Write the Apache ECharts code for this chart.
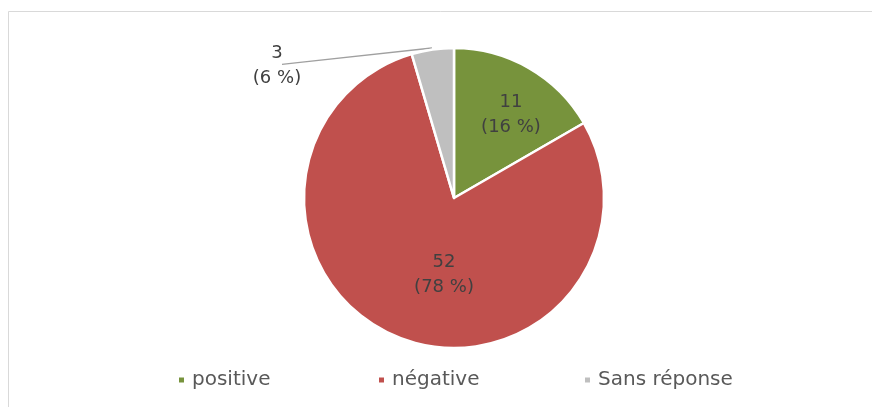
<!DOCTYPE html>
<head>
    <meta charset="UTF-8">
    <title>ECharts</title>
</head>
<body style="margin:0">
<div id="main" style="width:872px;height:407px"></div>
<script src="https://cdn.jsdelivr.net/npm/echarts@6/dist/echarts.min.js"></script>
<script type="text/javascript">
var categories = ['positive', 'négative', 'Sans réponse'];
var values = [11, 52, 3];
var percents = ['16 %', '78 %', '6 %'];
var colors = ['#77933C', '#C0504D', '#BFBFBF'];
var legendLeft = [177, 377, 583];

var FONT = '"DejaVu Sans", Verdana, sans-serif';

var pieData = [];
for (var i = 0; i < categories.length; i++) {
    pieData.push({
        name: categories[i],
        value: values[i],
        pct: percents[i],
        itemStyle: { color: colors[i] }
    });
}
// label nudges to sit where the original places them
pieData[0].label = { position: 'inside', offset: [18, -16] };
pieData[1].label = { position: 'inside', offset: [19, 4] };
pieData[2].label = { position: 'outside' };

// one legend per item so each marker sits at its own spot
var legends = [];
for (var j = 0; j < categories.length; j++) {
    legends.push({
        top: 370,
        left: legendLeft[j],
        padding: 0,
        icon: 'rect',
        itemWidth: 7,
        itemHeight: 7,
        textStyle: { fontSize: 20, color: '#595959', fontFamily: FONT, padding: [0, 0, 0, 2] },
        data: [categories[j]]
    });
}

var option = {
    backgroundColor: '#fff',
    textStyle: { fontFamily: FONT },
    graphic: [
        {
            type: 'rect',
            shape: { x: 8.5, y: 11.5, width: 900, height: 430 },
            style: { fill: 'none', stroke: '#d9d9d9', lineWidth: 1 },
            silent: true
        }
    ],
    legend: legends,
    series: [
        {
            type: 'pie',
            center: [454, 198],
            radius: 150,
            startAngle: 90,
            clockwise: true,
            animation: false,
            itemStyle: { borderColor: '#fff', borderWidth: 2.5 },
            label: {
                formatter: function (p) { return p.value + '\n(' + p.data.pct + ')'; },
                fontSize: 18,
                lineHeight: 25,
                color: '#404040',
                align: 'center',
                fontFamily: FONT
            },
            labelLine: {
                show: true,
                lineStyle: { color: '#a0a0a0', width: 1.3 }
            },
            labelLayout: function (params) {
                if (params.dataIndex === 2) {
                    return {
                        x: 277,
                        y: 66,
                        align: 'center',
                        verticalAlign: 'middle',
                        labelLinePoints: [[432, 48], [300, 62.4], [282, 64.3]]
                    };
                }
            },
            data: pieData
        }
    ]
};

var myChart = echarts.init(document.getElementById('main'));
myChart.setOption(option);
</script>
</body>
